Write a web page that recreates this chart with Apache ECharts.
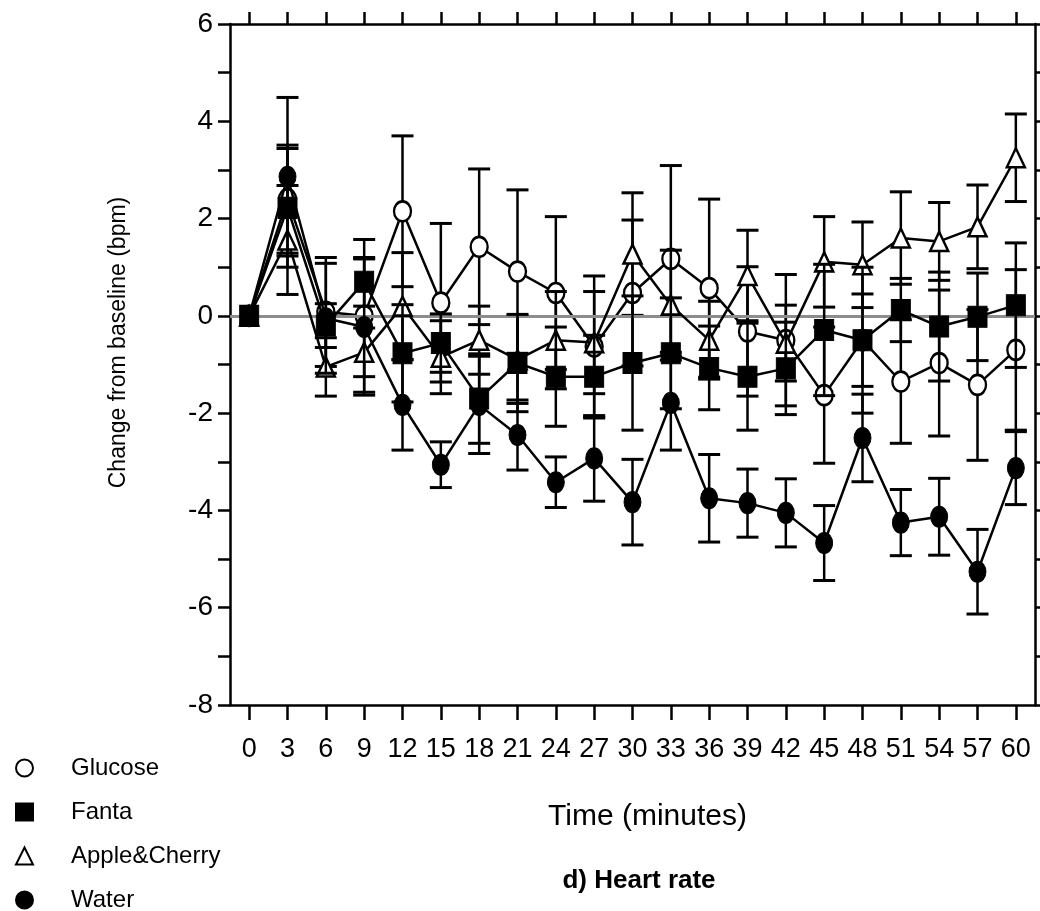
<!DOCTYPE html>
<html>
<head>
<meta charset="utf-8">
<script src="https://cdn.jsdelivr.net/npm/echarts@6/dist/echarts.min.js"></script>
<style>
  html, body { margin: 0; padding: 0; background: #fff; }
  #chart { width: 1040px; height: 911px; }
</style>
</head>
<body>
<div id="chart"></div>
<script>
// time points (minutes)
const times = ['0', '3', '6', '9', '12', '15', '18', '21', '24', '27', '30', '33', '36', '39', '42', '45', '48', '51', '54', '57', '60']

// change from baseline (bpm) and error (+/-) per drink
const glucose    = [0, 2.4, 0.08, 0.0, 2.15, 0.27, 1.42, 0.91, 0.47, -0.63, 0.47, 1.17, 0.57, -0.32, -0.5, -1.63, -0.5, -1.35, -0.97, -1.42, -0.7]
const glucoseErr = [0, 1.11, 1.12, 1.57, 1.55, 1.63, 1.6, 1.68, 1.57, 1.45, 1.5, 1.92, 1.83, 1.33, 1.35, 1.4, 0.95, 1.27, 1.5, 1.55, 1.65]

const fanta    = [0, 2.22, -0.2, 0.7, -0.77, -0.56, -1.7, -0.97, -1.25, -1.25, -0.97, -0.77, -1.07, -1.25, -1.08, -0.29, -0.5, 0.12, -0.22, -0.02, 0.22]
const fantaErr = [0, 1.22, 0.45, 0.5, 1.0, 0.6, 0.92, 1.0, 1.02, 0.85, 1.38, 1.14, 0.86, 1.1, 0.95, 1.35, 1.5, 0.65, 1.12, 0.9, 1.28]

const apple    = [0, 1.56, -1.05, -0.75, 0.2, -0.85, -0.5, -0.9, -0.5, -0.55, 1.27, 0.22, -0.5, 0.83, -0.56, 1.11, 1.05, 1.6, 1.53, 1.83, 3.25]
const appleErr = [0, 1.12, 0.6, 0.5, 1.1, 0.75, 0.7, 0.9, 1.0, 1.05, 1.26, 1.13, 0.8, 0.93, 0.78, 0.93, 0.88, 0.95, 0.8, 0.86, 0.9]

const water    = [0, 2.86, -0.05, -0.23, -1.83, -3.06, -1.83, -2.45, -3.42, -2.93, -3.83, -1.79, -3.75, -3.85, -4.05, -4.67, -2.51, -4.25, -4.13, -5.26, -3.13]
const waterErr = [0, 1.63, 1.13, 1.4, 0.93, 0.47, 1.0, 0.72, 0.52, 0.88, 0.88, 0.97, 0.9, 0.7, 0.7, 0.77, 0.9, 0.68, 0.79, 0.87, 0.75]

const FONT = 'Liberation Sans'

const chart = echarts.init(document.getElementById('chart'))

function errorSeries(name, vals, errs, z) {
  return {
    name: name,
    type: 'custom',
    z: z,
    silent: true,
    encode: { x: 0, y: [1, 2] },
    data: vals.map((v, i) => [i, v - errs[i], v + errs[i], errs[i]]),
    renderItem(params, api) {
      if (!api.value(3)) return null
      const lo = api.coord([api.value(0), api.value(1)])
      const hi = api.coord([api.value(0), api.value(2)])
      const hw = 11
      const cap = { stroke: '#000', lineWidth: 3 }
      return {
        type: 'group',
        children: [
          { type: 'line', shape: { x1: hi[0], y1: hi[1], x2: lo[0], y2: lo[1] }, style: { stroke: '#000', lineWidth: 2.5 } },
          { type: 'line', shape: { x1: hi[0] - hw, y1: hi[1], x2: hi[0] + hw, y2: hi[1] }, style: cap },
          { type: 'line', shape: { x1: lo[0] - hw, y1: lo[1], x2: lo[0] + hw, y2: lo[1] }, style: cap }
        ]
      }
    }
  }
}

function lineSeries(name, vals, symbol, size, open, z) {
  return {
    name: name,
    type: 'line',
    z: z,
    data: vals,
    symbol: symbol,
    symbolSize: size,
    showAllSymbol: true,
    lineStyle: { color: '#000', width: 2.5 },
    itemStyle: open
      ? { color: '#fff', borderColor: '#000', borderWidth: 2.5 }
      : { color: '#000', borderColor: '#000', borderWidth: 1 }
  }
}

const tickStyle = { color: '#000', width: 2.5 }

chart.setOption({
  animation: false,
  backgroundColor: '#fff',
  textStyle: { fontFamily: FONT, color: '#000' },
  grid: { left: 230, right: 5, top: 24, bottom: 206 },
  title: {
    text: 'd) Heart rate',
    left: 634,
    top: 863,
    textAlign: 'center',
    textStyle: { fontFamily: FONT, fontSize: 26, fontWeight: 'bold', color: '#000' }
  },
  legend: {
    orient: 'vertical',
    left: 15,
    top: 756,
    height: 160,
    padding: 0,
    itemWidth: 17,
    itemHeight: 17,
    itemGap: 20,
    textStyle: { fontFamily: FONT, fontSize: 24, color: '#000', lineHeight: 23, padding: [0, 0, 0, 33] },
    data: [
      { name: 'Glucose', icon: 'circle' },
      { name: 'Fanta', icon: 'rect' },
      { name: 'Apple&Cherry', icon: 'triangle' },
      { name: 'Water', icon: 'circle' }
    ]
  },
  xAxis: [
    {
      type: 'category',
      position: 'bottom',
      data: times,
      boundaryGap: true,
      axisLine: { onZero: false, lineStyle: { color: '#000', width: 2.5 } },
      axisTick: { show: true, alignWithLabel: true, interval: 0, length: 15, lineStyle: tickStyle },
      axisLabel: { color: '#000', fontSize: 27, fontFamily: FONT, margin: 31, interval: 0 },
      name: 'Time (minutes)',
      nameLocation: 'middle',
      nameGap: 97,
      nameTextStyle: { color: '#000', fontSize: 30, fontFamily: FONT, padding: [0, 0, 0, 30] }
    },
    {
      type: 'category',
      position: 'top',
      data: times,
      boundaryGap: true,
      axisLine: { onZero: false, lineStyle: { color: '#000', width: 2.5 } },
      axisTick: { show: true, alignWithLabel: true, interval: 0, length: 12, lineStyle: tickStyle },
      axisLabel: { show: false }
    }
  ],
  yAxis: [
    {
      type: 'value',
      position: 'left',
      min: -8,
      max: 6,
      interval: 1,
      splitLine: { show: false },
      axisLine: { show: true, onZero: false, lineStyle: { color: '#000', width: 2.5 } },
      axisTick: { show: true, length: 12, lineStyle: tickStyle },
      axisLabel: {
        color: '#000', fontSize: 28, fontFamily: FONT, margin: 17,
        formatter: v => (v % 2 === 0 ? String(v) : '')
      },
      name: 'Change from baseline (bpm)',
      nameLocation: 'middle',
      nameGap: 100,
      nameTextStyle: { color: '#000', fontSize: 23, fontFamily: FONT, padding: [0, 0, 0, 44] }
    },
    {
      type: 'value',
      position: 'right',
      min: -8,
      max: 6,
      interval: 1,
      splitLine: { show: false },
      axisLine: { show: true, onZero: false, lineStyle: { color: '#000', width: 2.5 } },
      axisTick: { show: true, length: 8, lineStyle: tickStyle },
      axisLabel: { show: false }
    }
  ],
  series: [
    {
      name: 'baseline',
      type: 'line',
      z: 1,
      data: [],
      silent: true,
      markLine: {
        silent: true,
        symbol: 'none',
        label: { show: false },
        lineStyle: { color: '#8c8c8c', width: 3, type: 'solid' },
        data: [{ yAxis: 0 }]
      }
    },
    errorSeries('Glucose err', glucose, glucoseErr, 2),
    lineSeries('Glucose', glucose, 'circle', [17, 20], true, 3),
    errorSeries('Apple err', apple, appleErr, 4),
    lineSeries('Apple&Cherry', apple, 'triangle', [18, 19], true, 5),
    errorSeries('Water err', water, waterErr, 6),
    lineSeries('Water', water, 'circle', [17, 21], false, 7),
    errorSeries('Fanta err', fanta, fantaErr, 8),
    lineSeries('Fanta', fanta, 'rect', [19, 21], false, 9)
  ]
})
</script>
</body>
</html>
